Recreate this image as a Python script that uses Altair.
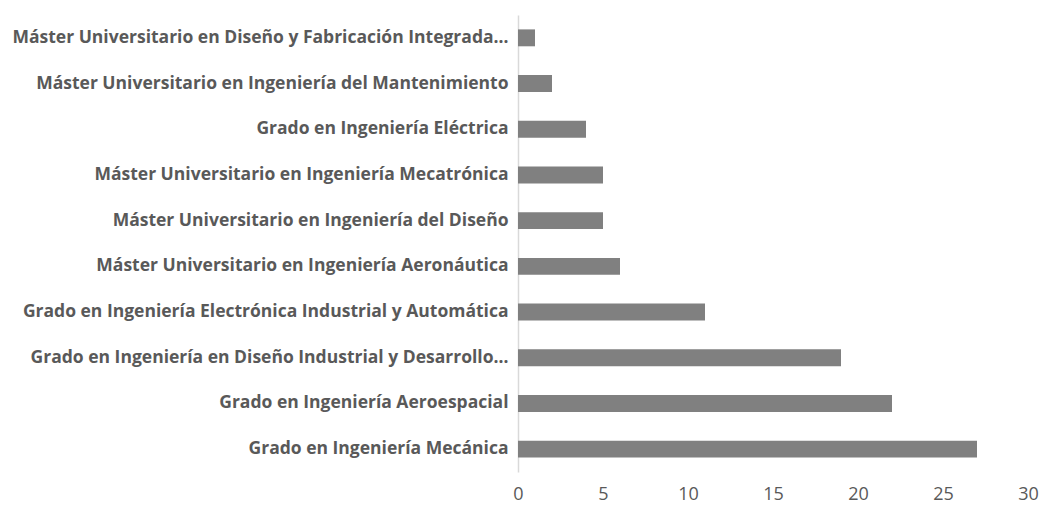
import altair as alt
import pandas as pd

programas = [
    "Máster Universitario en Diseño y Fabricación Integrada…",
    "Máster Universitario en Ingeniería del Mantenimiento",
    "Grado en Ingeniería Eléctrica",
    "Máster Universitario en Ingeniería Mecatrónica",
    "Máster Universitario en Ingeniería del Diseño",
    "Máster Universitario en Ingeniería Aeronáutica",
    "Grado en Ingeniería Electrónica Industrial y Automática",
    "Grado en Ingeniería en Diseño Industrial y Desarrollo…",
    "Grado en Ingeniería Aeroespacial",
    "Grado en Ingeniería Mecánica",
]
valores = [1, 2, 4, 5, 5, 6, 11, 19, 22, 27]

df = pd.DataFrame({"programa": programas, "valor": valores})

chart = alt.Chart(df).mark_bar(color="#808080").encode(
    x=alt.X("valor:Q", scale=alt.Scale(domain=[0, 30], nice=False),
            axis=alt.Axis(values=[0, 5, 10, 15, 20, 25, 30], title=None, grid=False,
                          domain=False, ticks=False, labelFont="Open Sans", labelFontSize=18,
                          labelColor="#595959", labelPadding=13, labelFlush=False)),
    y=alt.Y("programa:N", sort=programas,
            scale=alt.Scale(paddingInner=0.63, paddingOuter=0.315),
            axis=alt.Axis(title=None, ticks=False, domain=True, domainColor="#d9d9d9",
                          domainWidth=1.5, labelFont="Open Sans", labelFontWeight="bold",
                          labelFontSize=17.5, labelColor="#595959", labelPadding=10,
                          labelLimit=0)),
).properties(
    width=510, height=457,
    autosize=alt.AutoSizeParams(type="none"),
    padding={"left": 510, "top": 7, "right": 14, "bottom": 34},
).configure_view(stroke=None)

chart.save("out.html", embed_options={"renderer": "svg", "actions": False})
